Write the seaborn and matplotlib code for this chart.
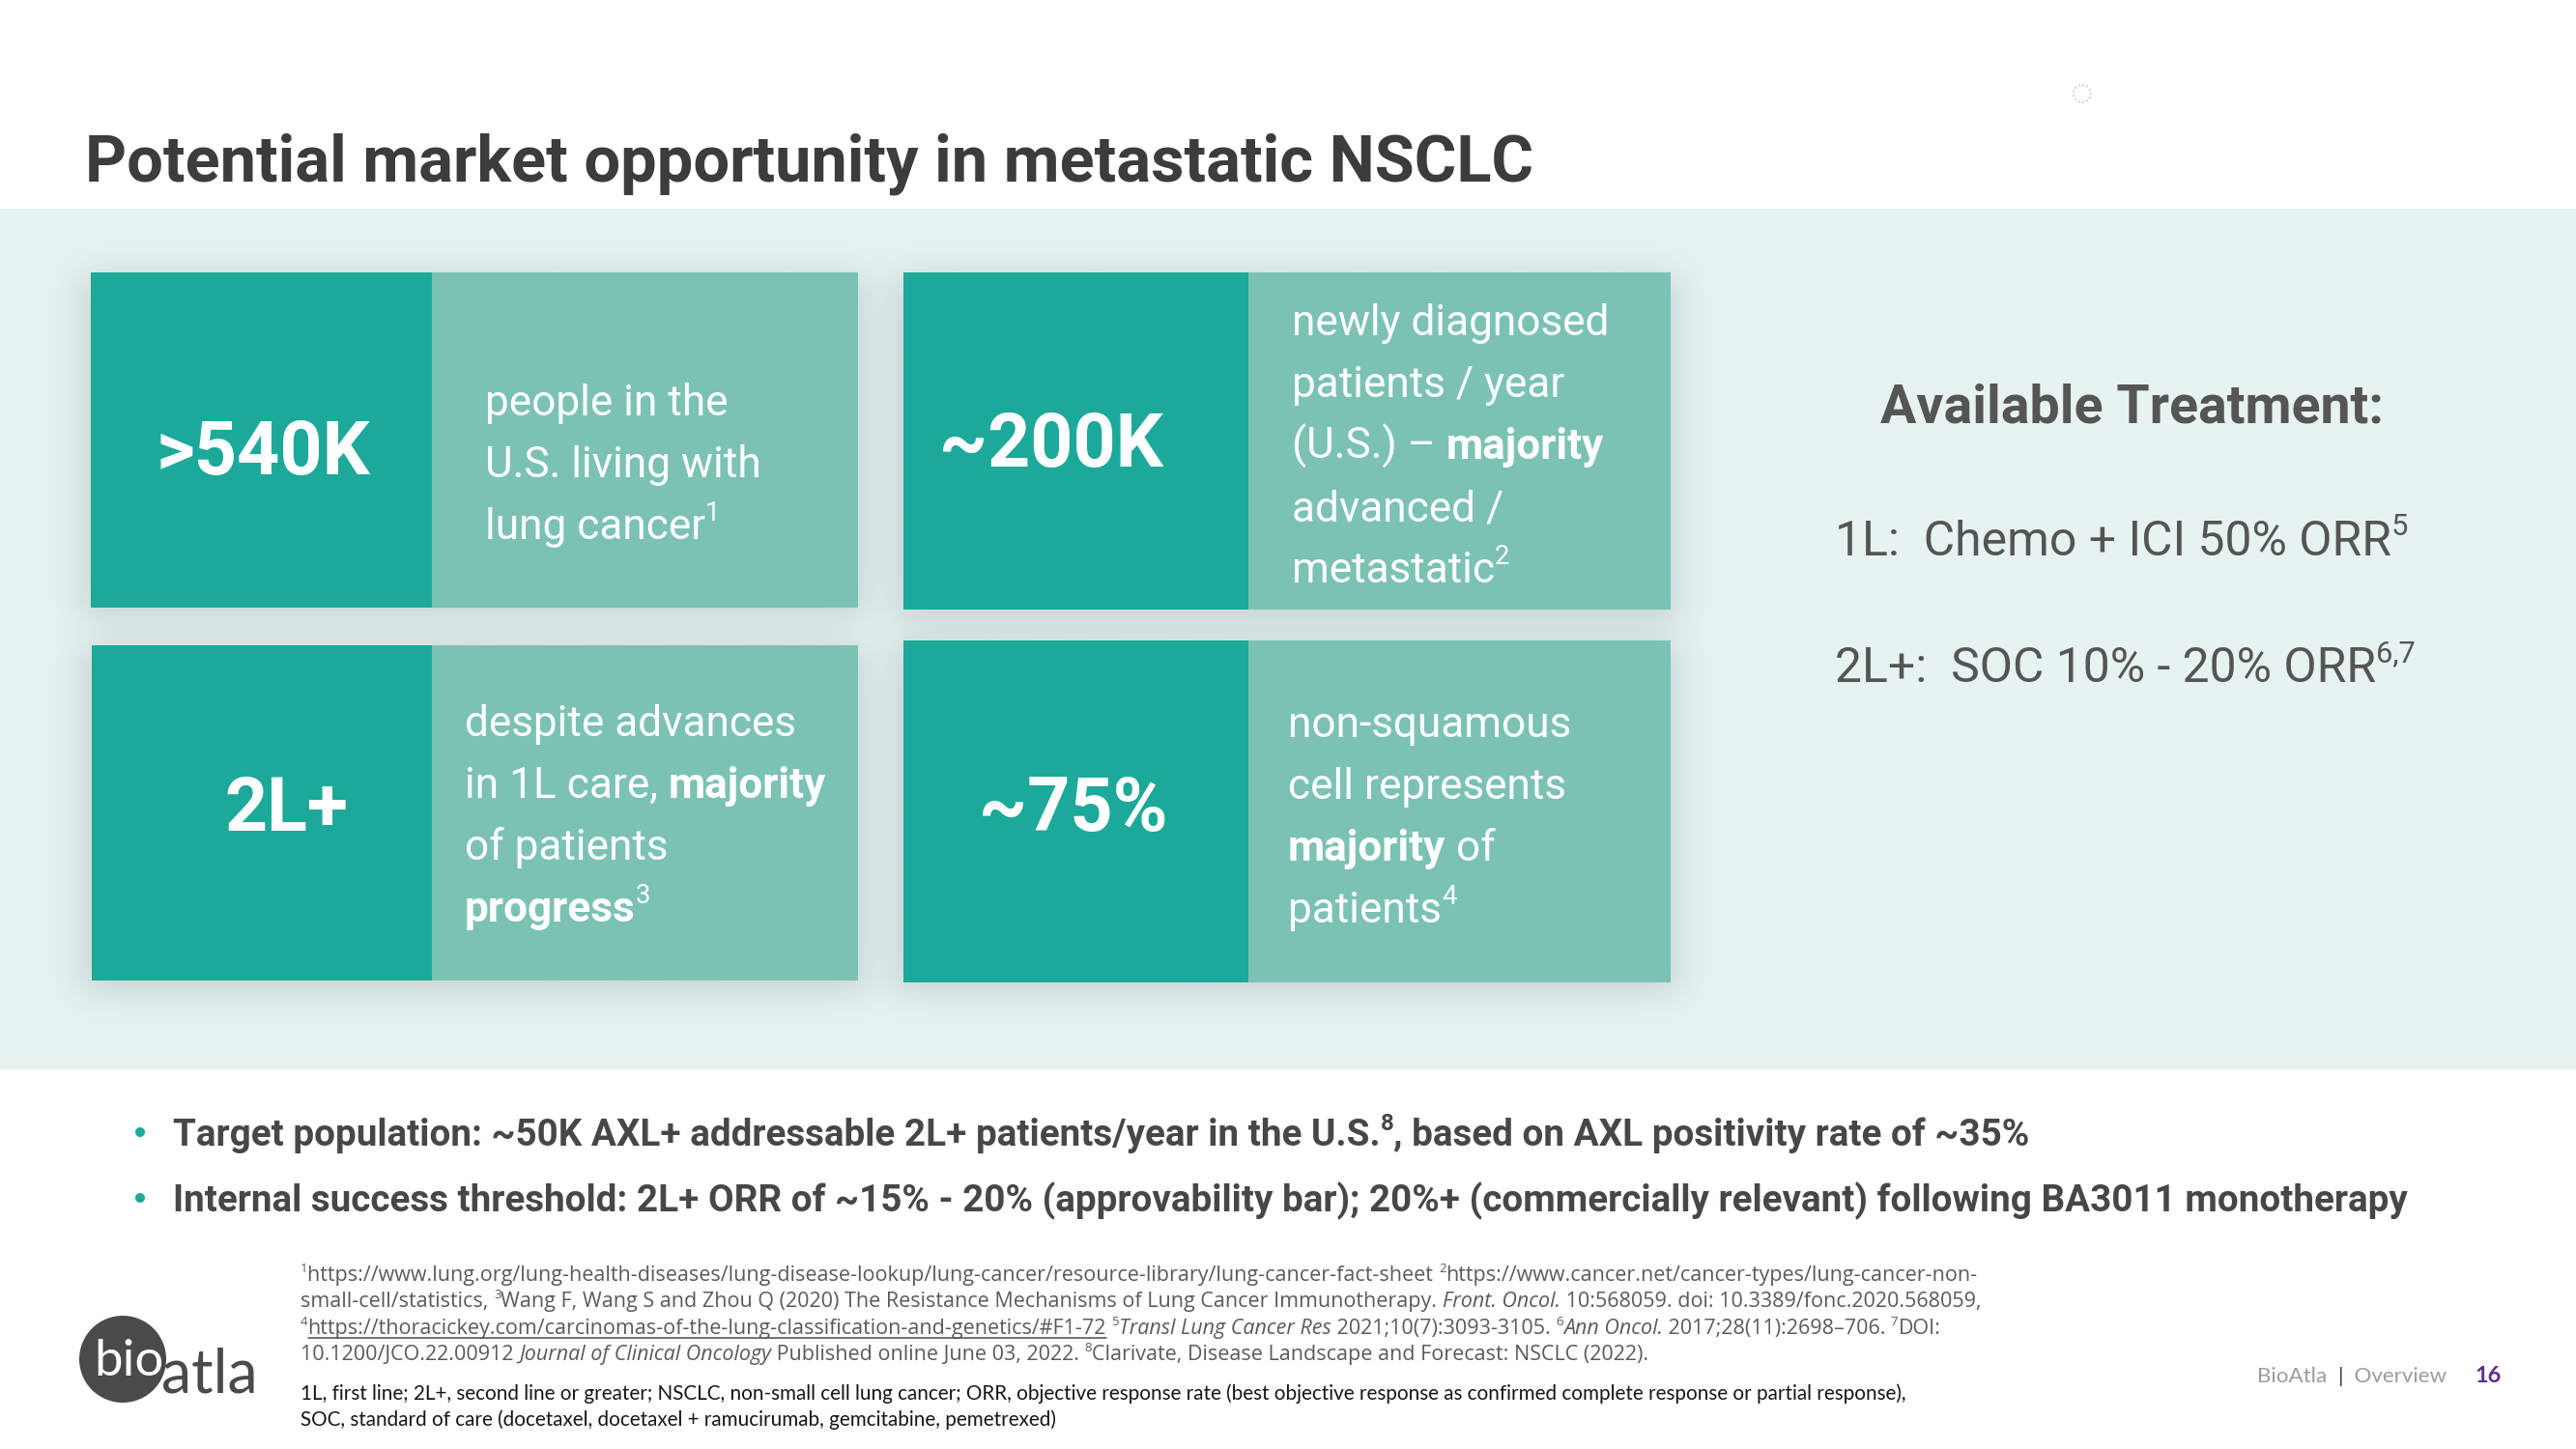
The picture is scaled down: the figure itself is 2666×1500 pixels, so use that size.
import numpy as np
import matplotlib
matplotlib.use("Agg")
import matplotlib.pyplot as plt
from matplotlib.patches import Rectangle, Circle
import seaborn as sns

# ------------------------------------------------------------------ data
title = "Potential market opportunity in metastatic NSCLC"

stat_values = [">540K", "~200K", "2L+", "~75%"]
stat_desc_1 = [[("people in the", "n")],
               [("U.S. living with", "n")],
               [("lung cancer", "n"), ("1", "s")]]
stat_desc_2 = [[("newly diagnosed", "n")],
               [("patients / year", "n")],
               [("(U.S.) \u2013 ", "n"), ("majority", "b")],
               [("advanced /", "n")],
               [("metastatic", "n"), ("2", "s")]]
stat_desc_3 = [[("despite advances", "n")],
               [("in 1L care, ", "n"), ("majority", "b")],
               [("of patients", "n")],
               [("progress", "b"), ("3", "s")]]
stat_desc_4 = [[("non-squamous", "n")],
               [("cell represents", "n")],
               [("majority", "b"), (" of", "n")],
               [("patients", "n"), ("4", "s")]]
stat_descs = [stat_desc_1, stat_desc_2, stat_desc_3, stat_desc_4]

treat_heading = "Available Treatment:"
treat_lines = [[("1L:  Chemo + ICI 50% ORR", "n"), ("5", "s")],
               [("2L+:  SOC 10% - 20% ORR", "n"), ("6,7", "s")]]

bullets = [[("Target population: ~50K AXL+ addressable 2L+ patients/year in the U.S.", "b"),
            ("8", "sb"), (", based on AXL positivity rate of ~35%", "b")],
           [("Internal success threshold: 2L+ ORR of ~15% - 20% (approvability bar); 20%+ "
             "(commercially relevant) following BA3011 monotherapy", "b")]]

footnotes = [
    [("1", "s"), ("https://www.lung.org/lung-health-diseases/lung-disease-lookup/lung-cancer/"
                  "resource-library/lung-cancer-fact-sheet ", "n"),
     ("2", "s"), ("https://www.cancer.net/cancer-types/lung-cancer-non-", "n")],
    [("small-cell/statistics, ", "n"), ("3", "s"),
     ("Wang F, Wang S and Zhou Q (2020) The Resistance Mechanisms of Lung Cancer Immunotherapy. ", "n"),
     ("Front. Oncol.", "i"), (" 10:568059. doi: 10.3389/fonc.2020.568059,", "n")],
    [("4", "s"), ("https://thoracickey.com/carcinomas-of-the-lung-classification-and-genetics/#F1-72", "u"),
     (" ", "n"), ("5", "s"), ("Transl Lung Cancer Res", "i"), (" 2021;10(7):3093-3105. ", "n"),
     ("6", "s"), ("Ann Oncol.", "i"), (" 2017;28(11):2698\u2013706. ", "n"), ("7", "s"), ("DOI:", "n")],
    [("10.1200/JCO.22.00912 ", "n"), ("Journal of Clinical Oncology", "i"),
     (" Published online June 03, 2022. ", "n"), ("8", "s"),
     ("Clarivate, Disease Landscape and Forecast: NSCLC (2022).", "n")],
]
abbreviations = [
    [("1L, first line; 2L+, second line or greater; NSCLC, non-small cell lung cancer; ORR, objective "
      "response rate (best objective response as confirmed complete response or partial response),", "n")],
    [("SOC, standard of care (docetaxel, docetaxel + ramucirumab, gemcitabine, pemetrexed)", "n")],
]
footer_company = "BioAtla"
footer_section = "Overview"
footer_page = "16"
logo_parts = ["bio", "atla"]

# ------------------------------------------------------------------ style
sns.set_theme(style="white")
plt.rcParams["font.family"] = ["Roboto", "DejaVu Sans"]

dark_teal, light_teal = sns.color_palette(["#1da99a", "#7bc2b4"])
band_col = "#e6f3f1"
title_col = "#3c3c3c"
bullet_col = "#474747"
treat_col = "#555555"
foot_col = "#5a5a5a"
abbr_col = "#151515"
purple = "#5c2d91"
footer_gray = "#9c9c9c"
navy = "#2d3e55"

W, H, DPI = 2666, 1500, 100
fig = plt.figure(figsize=(W / DPI, H / DPI), dpi=DPI)
ax = fig.add_axes([0, 0, 1, 1])
ax.set_xlim(0, W)
ax.set_ylim(H, 0)
ax.axis("off")
R = fig.canvas.get_renderer()


def seg_props(st, size, family, color, weight):
    return dict(fontsize=size * 0.62 if "s" in st else size,
                family=family, color=color,
                fontweight="bold" if "b" in st else weight,
                fontstyle="italic" if "i" in st else "normal")


def width_of(text, props):
    a = ax.text(0, 0, "|" + text + "|", **props)
    b = ax.text(0, 0, "||", **props)
    w = a.get_window_extent(R).width - b.get_window_extent(R).width
    a.remove()
    b.remove()
    return w


def seg_width(segs, size, family, weight="normal"):
    tot = 0
    for seg in segs:
        text, st = seg[0], seg[1]
        tot += width_of(text, seg_props(st, size, family, "k", weight))
    return tot


def fit(segs, family, target, weight="normal"):
    base = 40.0
    return base * target / seg_width(segs, base, family, weight)


def rich(x, y, segs, size, family, color, weight="normal", ha="left", zorder=5):
    parts = []
    total = 0
    for seg in segs:
        text, st = seg[0], seg[1]
        col = seg[2] if len(seg) > 2 else color
        p = seg_props(st, size, family, col, weight)
        w = width_of(text, p)
        parts.append((text, p, w, st))
        total += w
    if ha == "center":
        x -= total / 2
    for text, p, w, st in parts:
        dy = -0.42 * size * DPI / 72 if "s" in st else 0
        ax.text(x, y + dy, text, ha="left", va="baseline", zorder=zorder, **p)
        if "u" in st:
            ax.plot([x, x + w], [y + 4, y + 4], color=p["color"], lw=1.2, zorder=zorder)
        x += w
    return total


# ------------------------------------------------------------------ background band
ax.add_patch(Rectangle((0, 216), W, 891, color=band_col, zorder=0, lw=0))

# card geometry (x0, y0, x1, y1, split)
cards = [(94, 282, 888, 629, 447), (935, 282, 1729, 631, 1292),
         (95, 668, 888, 1015, 447), (935, 663, 1729, 1017, 1292)]

# soft shadow
sc = 4
hh, ww = H // sc, W // sc
m = np.zeros((hh, ww))
for (x0, y0, x1, y1, _) in cards:
    m[(y0 + 2) // sc:(y1 + 14) // sc, (x0 - 8) // sc:(x1 + 8) // sc] = 1
k = np.exp(-0.5 * (np.arange(-15, 16) / 4.5) ** 2)
k /= k.sum()
m = np.apply_along_axis(lambda r: np.convolve(r, k, "same"), 1, m)
m = np.apply_along_axis(lambda c: np.convolve(c, k, "same"), 0, m)
band_mask = np.zeros((hh, ww))
band_mask[216 // sc:1107 // sc, :] = 1
rgba = np.zeros((hh, ww, 4))
rgba[..., 0] = 0.55
rgba[..., 1] = 0.60
rgba[..., 2] = 0.60
rgba[..., 3] = 0.34 * m * band_mask
ax.imshow(rgba, extent=(0, W, H, 0), interpolation="bilinear", zorder=1, aspect="auto")
ax.set_xlim(0, W)
ax.set_ylim(H, 0)

for (x0, y0, x1, y1, xs) in cards:
    ax.add_patch(Rectangle((x0, y0), xs - x0, y1 - y0, color=dark_teal, lw=0, zorder=2))
    ax.add_patch(Rectangle((xs, y0), x1 - xs, y1 - y0, color=light_teal, lw=0, zorder=2))

# ------------------------------------------------------------------ texts
title_size = fit([(title, "b")], "Roboto", 1496)
rich(88, 187, [(title, "b")], title_size, "Roboto", title_col)

stat_size = fit([(stat_values[0], "b")], "Roboto", 221)
stat_x = [272, 1088, 296, 1111]
stat_y = [491, 483, 860, 860]
for v, x, y in zip(stat_values, stat_x, stat_y):
    rich(x, y, [(v, "b")], stat_size, "Roboto", "white", ha="center")

desc_size = fit(stat_desc_2[0], "Roboto", 328)
desc_x = [502, 1337, 481, 1333]
desc_y0 = [430, 347, 762, 763]
for lines, x, y0 in zip(stat_descs, desc_x, desc_y0):
    for i, segs in enumerate(lines):
        rich(x, y0 + 64 * i, segs, desc_size, "Roboto", "white")

head_size = fit([(treat_heading, "b")], "Roboto", 520)
rich(2207, 438, [(treat_heading, "b")], head_size, "Roboto", treat_col, ha="center")
treat_size = fit(treat_lines[0], "Roboto", 593)
for segs, y in zip(treat_lines, [575, 706]):
    rich(1899, y, segs, treat_size, "Roboto", treat_col)

bullet_size = fit(bullets[1], "Roboto", 2312)
for segs, y in zip(bullets, [1186, 1254]):
    ax.add_patch(Circle((145, y - 14), 5, color=dark_teal, lw=0, zorder=5))
    rich(179, y, segs, bullet_size, "Roboto", bullet_col)

foot_size = fit(footnotes[0], "Open Sans", 1723)
for i, segs in enumerate(footnotes):
    rich(311, 1326 + 27.3 * i, segs, foot_size, "Open Sans", foot_col)

abbr_size = fit(abbreviations[0], "Lato", 1655)
for i, segs in enumerate(abbreviations):
    rich(311, 1449 + 27 * i, segs, abbr_size, "Lato", abbr_col)

# footer
footer_segs = [(footer_company + "  ", "n", footer_gray), ("|", "n", navy),
               ("  " + footer_section, "n", footer_gray)]
footer_size = fit(footer_segs, "Lato", 196)
rich(2336, 1431, footer_segs, footer_size, "Lato", footer_gray)
rich(2561, 1431, [(footer_page, "b")], footer_size * 1.05, "Lato", purple)

# logo
ax.add_patch(Circle((127, 1407), 45, color="#4a4a4a", lw=0, zorder=3))
ax.text(97, 1424, logo_parts[0], family="Lato", fontweight="normal", fontsize=38,
        color="white", va="baseline", ha="left", zorder=4)
ax.text(167, 1442, logo_parts[1], family="Lato", fontweight="normal", fontsize=45,
        color="#4a4a4a", va="baseline", ha="left", zorder=4)

# small loading indicator in the top right corner
ax.add_patch(Circle((2155, 97), 9, fill=False, ec="#c4c4c4", lw=1.2, ls=":", zorder=3))

fig.savefig("out.png", dpi=DPI, facecolor="white")
